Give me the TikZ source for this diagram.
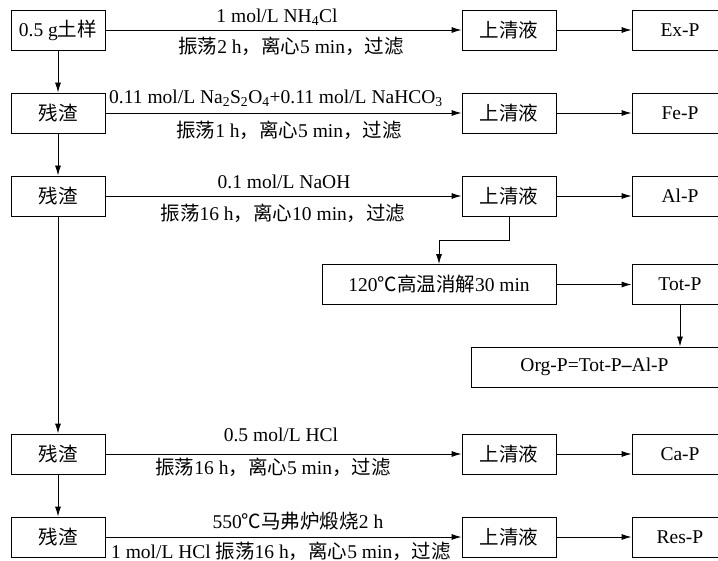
\documentclass[tikz,border=0pt]{standalone}
\usepackage{fontspec}
\setmainfont{Liberation Serif}
\newfontfamily\cjk{Noto Sans CJK SC}
\newcommand{\zh}[1]{{\cjk #1}}
\newcommand{\sbs}[1]{\textsubscript{#1}}
\usetikzlibrary{arrows.meta}
\begin{document}
\begin{tikzpicture}[x=1pt,y=-1pt,
  font=\fontsize{19.5}{22}\selectfont,
  line width=0.9pt,
  box/.style={draw, minimum height=40pt, inner sep=0pt},
  lbox/.style={box, minimum width=94pt},
  mbox/.style={box, minimum width=94pt},
  rbox/.style={box, minimum width=96pt},
  arr/.style={-{Latex[length=10pt,width=6pt]}},
  lab/.style={inner sep=0pt}]
\useasboundingbox (0,0) rectangle (718,561);
\clip (0,0) rectangle (718,561);
% left column
\node[lbox] (l1) at (58,30) {0.5 g\zh{土样}};
\node[lbox] (l2) at (58,113) {\zh{残渣}};
\node[lbox] (l3) at (58,196) {\zh{残渣}};
\node[lbox] (l4) at (58,454) {\zh{残渣}};
\node[lbox] (l5) at (58,537) {\zh{残渣}};
% middle column
\node[mbox] (m1) at (509,30) {\zh{上清液}};
\node[mbox] (m2) at (509,113) {\zh{上清液}};
\node[mbox] (m3) at (509,196) {\zh{上清液}};
\node[mbox] (m4) at (509,454) {\zh{上清液}};
\node[mbox] (m5) at (509,537) {\zh{上清液}};
% right column
\node[rbox] (r1) at (680,30) {Ex-P};
\node[rbox] (r2) at (680,113) {Fe-P};
\node[rbox] (r3) at (680,196) {Al-P};
\node[rbox] (r4) at (680,454) {Ca-P};
\node[rbox] (r5) at (680,537) {Res-P};
% digestion branch
\node[box, minimum width=234pt] (h) at (439,284.5) {120\zh{℃高温消解}30 min};
\node[rbox] (tot) at (680,284.5) {Tot-P};
\node[box, minimum width=247pt] (org) at (594.5,367) {Org-P=Tot-P\textbf{–}Al-P};
% connectors
\draw[arr] (l1) -- (m1);
\draw[arr] (l2) -- (m2);
\draw[arr] (l3) -- (m3);
\draw[arr] (l4) -- (m4);
\draw[arr] (l5) -- (m5);
\draw[arr] (m1) -- (r1);
\draw[arr] (m2) -- (r2);
\draw[arr] (m3) -- (r3);
\draw[arr] (m4) -- (r4);
\draw[arr] (m5) -- (r5);
\draw[arr] (l1) -- (l2);
\draw[arr] (l2) -- (l3);
\draw[arr] (l3) -- (l4);
\draw[arr] (l4) -- (l5);
\draw[arr] (m3.south) -- ++(0,24) -| (h.north);
\draw[arr] (h) -- (tot);
\draw[arr] (tot.south) -- (tot.south |- org.north);
% labels
\node[lab] (a1) at (277,17) {1 mol/L NH\sbs{4}Cl};
\node[lab] (b1) at (291,46) {\zh{振荡}2 h\zh{，离心}5 min\zh{，过滤}};
\node[lab] (a2) at (276,98) {0.11 mol/L Na\sbs{2}S\sbs{2}O\sbs{4}+0.11 mol/L NaHCO\sbs{3}};
\node[lab] (b2) at (289,130) {\zh{振荡}1 h\zh{，离心}5 min\zh{，过滤}};
\node[lab] (a3) at (284,182) {0.1 mol/L NaOH};
\node[lab] (b3) at (283,213) {\zh{振荡}16 h\zh{，离心}10 min\zh{，过滤}};
\node[lab] (a4) at (281,435) {0.5 mol/L HCl};
\node[lab] (b4) at (273,467) {\zh{振荡}16 h\zh{，离心}5 min\zh{，过滤}};
\node[lab] (a5) at (298,521) {550\zh{℃马弗炉煅烧}2 h};
\node[lab] (b5) at (281,551) {1 mol/L HCl \zh{振荡}16 h\zh{，离心}5 min\zh{，过滤}};
\end{tikzpicture}
\end{document}
